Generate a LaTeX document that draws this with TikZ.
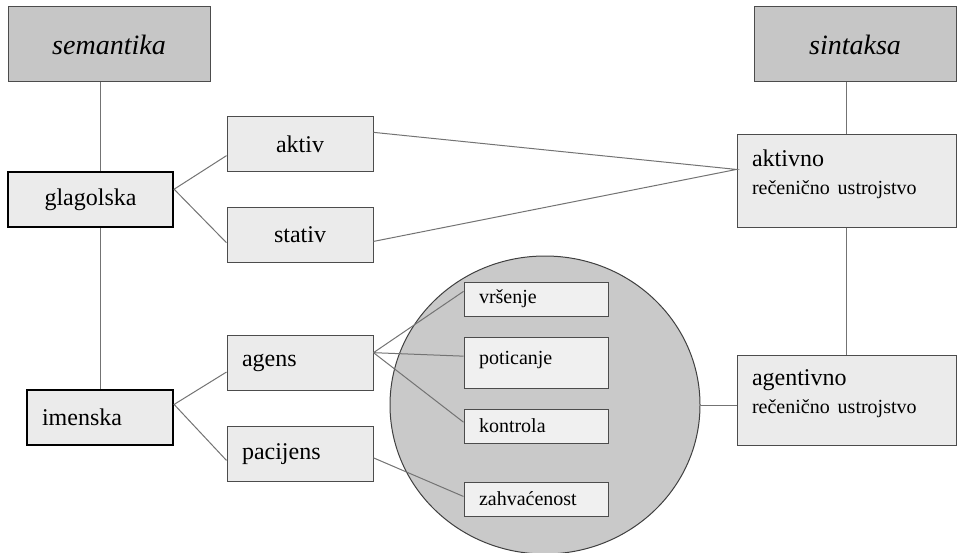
\documentclass[tikz,border=0pt]{standalone}
\usepackage{fontspec}
\setmainfont{Liberation Serif}
\usepackage{tikz}
\usetikzlibrary{shapes.geometric}

\begin{document}
\begin{tikzpicture}[
                x=1pt, y=-1pt,
                kutija/.style={draw=black!70, fill=gray!16, rectangle, line width=1pt, inner xsep=15pt, inner ysep=0pt, font=\fontsize{24}{28}\selectfont},
                headbox/.style={kutija, fill=gray!45, minimum width=202pt, minimum height=75pt, font=\fontsize{28}{32}\selectfont\itshape},
                rootbox/.style={kutija, draw=black, line width=2.2pt, minimum height=55pt},
                leafbox/.style={kutija, minimum width=146pt, minimum height=55pt},
                leftbox/.style={leafbox, text width=116pt, align=left},
                rightbox/.style={kutija, text width=189pt, align=left, minimum width=219pt},
                innerbox/.style={kutija, fill=gray!12, text width=114pt, align=left, minimum height=34pt, font=\fontsize{20}{24}\selectfont},
                conn/.style={draw=black!55, line width=1pt}]

            \useasboundingbox (0,0) rectangle (957,553);
            \coordinate (axis) at (100,0);

            % semantika
            \node[headbox] (sem) at (109,44.5) {semantika};
            \node[rootbox, minimum width=165pt] (glag) at (90.5,199.5) {glagolska};
            \node[rootbox, minimum width=146pt, text width=116pt, align=left] (imen) at (100,417.5) {imenska};
            \node[leafbox] (aktiv) at (300,144) {aktiv};
            \node[leafbox] (stativ) at (300,235) {stativ};
            \node[leftbox] (agens) at (300,363) {agens};
            \node[leftbox] (pac) at (300,454) {pacijens};

            % krug
            \node[ellipse, draw=black!75, fill=gray!42, line width=1pt, minimum width=310pt, minimum height=298pt] (krug) at (545,405) {};
            \node[innerbox] (vrs) at (536,299) {vršenje};
            \node[innerbox, minimum height=51pt] (pot) at (536,362.5) {poticanje\rule[-10pt]{0pt}{10pt}};
            \node[innerbox] (kon) at (536,426) {kontrola};
            \node[innerbox] (zah) at (536,499) {zahvaćenost};

            % sintaksa
            \node[headbox] (sin) at (855,44.5) {sintaksa};
            \node[rightbox, minimum height=92pt] (aktivno) at (846.5,181) {aktivno\\{\fontsize{20}{24}\selectfont rečenično ustrojstvo}\rule[-18pt]{0pt}{18pt}};
            \node[rightbox, minimum height=90pt] (agent) at (846.5,400) {agentivno\\{\fontsize{20}{24}\selectfont rečenično ustrojstvo}\rule[-17pt]{0pt}{17pt}};

            % veze
            \draw[conn] (sem.south -| axis) -- (glag.north -| axis);
            \draw[conn] (glag.south -| axis) -- (imen.north -| axis);
            \draw[conn] (sin.south -| aktivno.north) -- (aktivno.north);
            \draw[conn] (aktivno.south) -- (agent.north);
            \draw[conn] (aktiv.189) -- (glag.7) -- (stativ.186);
            \draw[conn] (agens.187) -- (imen.10) -- (pac.185);
            \draw[conn] (aktiv.9) -- (aktivno.174) -- (stativ.-5);
            \foreach \cilj/\kut in {vrs/174, pot/175, kon/177}
                \draw[conn] (agens.8) -- (\cilj.\kut);
            \draw[conn] (pac.-3) -- (zah.178);
            \draw[conn] (krug.east) -- (krug.east -| agent.west);

        \end{tikzpicture}
\end{document}
